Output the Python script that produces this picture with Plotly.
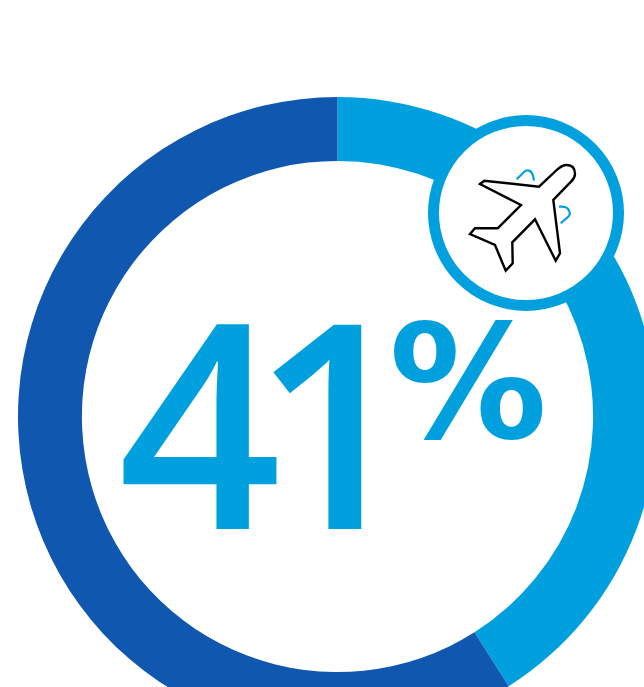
import plotly.graph_objects as go

categories = ["Share", "Rest"]
values = [41, 59]
colors = ["#00A0DF", "#1057B0"]
label_digits = ["4", "1"]
label_unit = "%"

W, H = 690, 840
CX, CY, R = 337.5, 416.5, 319.5

def fx(x):
    return x / W

def fy(y):
    return 1 - y / H

def pt(x, y):
    return f"{fx(x):.5f},{fy(y):.5f}"

fig = go.Figure(go.Pie(
    labels=categories, values=values, sort=False, direction="clockwise",
    rotation=0, hole=0.80, marker=dict(colors=colors, line=dict(width=0)),
    textinfo="none", hoverinfo="skip", showlegend=False,
    domain=dict(x=[fx(CX - R), fx(CX + R)], y=[fy(CY + R), fy(CY - R)]),
))

plane = (
    f"M{pt(480,184)} L{pt(484.3,180.7)} L{pt(539,186.7)} "
    f"L{pt(556.7,170)} Q{pt(562,165)} {pt(566.7,165)} "
    f"Q{pt(575,165)} {pt(575,174)} Q{pt(575,178)} {pt(571,181.7)} "
    f"L{pt(553.3,200)} L{pt(560,253.3)} L{pt(555.7,260.7)} "
    f"L{pt(535,219.3)} L{pt(512.3,242.3)} L{pt(512.7,263.3)} "
    f"L{pt(505.7,270.7)} L{pt(495,245)} L{pt(470,234)} "
    f"L{pt(475,228.3)} L{pt(497.7,228.3)} L{pt(521,205)} Z"
)
tick1 = f"M{pt(516.7,179.3)} L{pt(524,172)} Q{pt(527,169.5)} {pt(530,171)} Q{pt(533,173)} {pt(534,180.7)}"
tick2 = f"M{pt(559,206.7)} Q{pt(566,206)} {pt(568,209)} Q{pt(571,213)} {pt(569,216)} L{pt(560.7,223.3)}"

shapes = [
    dict(type="circle", xref="paper", yref="paper", layer="above",
         x0=fx(526 - 92.5), x1=fx(526 + 92.5), y0=fy(213 + 92.5), y1=fy(213 - 92.5),
         fillcolor="white", line=dict(color=colors[0], width=11)),
    dict(type="path", xref="paper", yref="paper", layer="above", path=tick1,
         line=dict(color=colors[0], width=2.2)),
    dict(type="path", xref="paper", yref="paper", layer="above", path=tick2,
         line=dict(color=colors[0], width=2.2)),
    dict(type="path", xref="paper", yref="paper", layer="above", path=plane,
         fillcolor="white", line=dict(color="black", width=2.4)),
]

big = dict(family="Open Sans", size=286, weight=600, color=colors[0])
annotations = [
    dict(text=label_digits[0], xref="paper", yref="paper", x=fx(199.5), y=fy(417.5),
         xanchor="center", yanchor="middle", showarrow=False, font=big),
    dict(text=label_digits[1], xref="paper", yref="paper", x=fx(333.5), y=fy(417.5),
         xanchor="center", yanchor="middle", showarrow=False, font=big),
    dict(text=label_unit, xref="paper", yref="paper", x=fx(468), y=fy(383),
         xanchor="center", yanchor="middle", showarrow=False,
         font=dict(family="DejaVu Sans", size=158, weight=700, color=colors[0])),
]

fig.update_layout(width=W, height=H, margin=dict(l=0, r=0, t=0, b=0),
                  paper_bgcolor="white", shapes=shapes, annotations=annotations)
fig.write_html("out.html", default_width=f"{W}px", default_height=f"{H}px",
               config=dict(displayModeBar=False),
               post_script="document.body.style.margin='0';document.documentElement.style.overflow='hidden';document.body.style.overflow='hidden';")
